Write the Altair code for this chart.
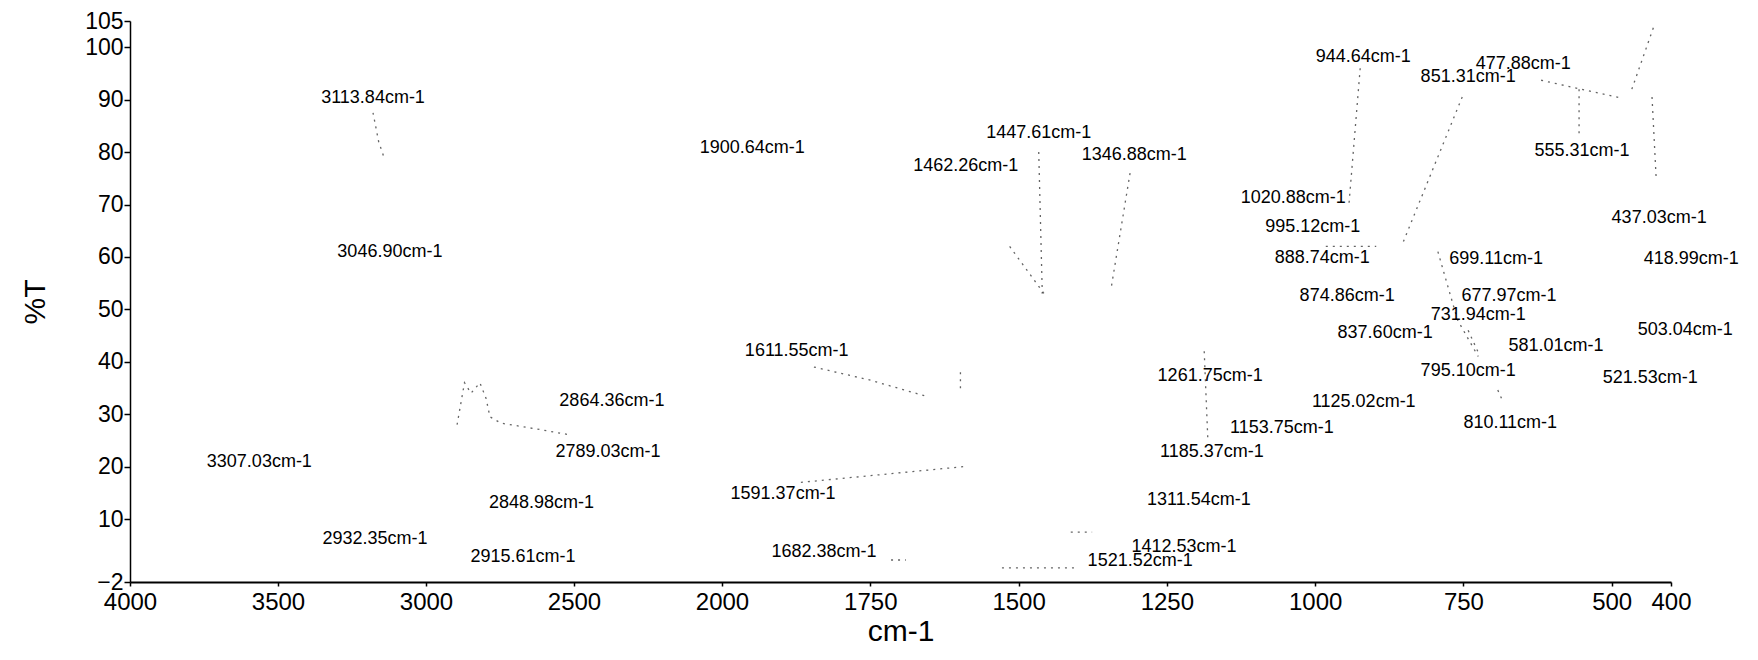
import altair as alt
import pandas as pd

# ---- peak labels (text, wavenumber position, %T position) ----
label_text = [
    "3113.84cm-1", "3046.90cm-1", "1900.64cm-1", "1447.61cm-1", "1462.26cm-1",
    "1346.88cm-1", "944.64cm-1", "851.31cm-1", "477.88cm-1", "555.31cm-1",
    "1020.88cm-1", "995.12cm-1", "437.03cm-1", "888.74cm-1", "699.11cm-1",
    "418.99cm-1", "874.86cm-1", "677.97cm-1", "731.94cm-1", "837.60cm-1",
    "503.04cm-1", "581.01cm-1", "795.10cm-1", "521.53cm-1", "1261.75cm-1",
    "1125.02cm-1", "810.11cm-1", "1153.75cm-1", "1185.37cm-1", "1311.54cm-1",
    "1412.53cm-1", "1521.52cm-1", "3307.03cm-1", "2932.35cm-1", "2915.61cm-1",
    "2848.98cm-1", "2864.36cm-1", "2789.03cm-1", "1611.55cm-1", "1591.37cm-1",
    "1682.38cm-1",
]
label_w = [
    3179, 3122, 1949, 1466, 1589,
    1305, 919, 742, 649, 550,
    1037, 1004, 420, 988, 695,
    366, 946, 673, 725, 882,
    376, 594, 742, 435, 1177,
    918, 671, 1056, 1174, 1196,
    1221, 1295, 3563, 3172, 2672,
    2610, 2372, 2385, 1874, 1897,
    1828,
]
label_t = [
    90.3, 60.9, 80.8, 83.6, 77.3,
    79.4, 98.1, 94.3, 96.8, 80.2,
    71.2, 65.7, 67.4, 59.8, 59.6,
    59.6, 52.5, 52.5, 48.9, 45.5,
    46.1, 43.0, 38.2, 36.9, 37.3,
    32.3, 28.3, 27.4, 22.8, 13.6,
    4.7, 2.0, 20.9, 6.2, 2.8,
    13.1, 32.5, 22.8, 42.1, 14.8,
    3.7,
]

# ---- visible fragments of the faded spectrum trace ----
frag_id = [
    "f1", "f1", "f1",
    "f2", "f2", "f2", "f2", "f2", "f2", "f2", "f2", "f2",
    "f3", "f3", "f3", "f3b", "f3b",
    "f4", "f4",
    "f5", "f5", "f5b", "f5b",
    "f6", "f6",
    "f7", "f7",
    "f8", "f8", "f8b", "f8b", "f8b",
    "f9", "f9", "f9b", "f9b",
    "f10", "f10",
    "f11", "f11",
    "f12", "f12",
    "f13", "f13",
    "f14", "f14",
    "f15", "f15",
    "f16", "f16",
    "f17", "f17", "f17b", "f17b",
]
frag_w = [
    3179, 3160, 3139,
    2895, 2870, 2848, 2818, 2797, 2784, 2747, 2628, 2507,
    1845, 1750, 1658, 1598, 1598,
    1867, 1593,
    1466, 1460, 1515, 1457,
    1312, 1344,
    924, 943,
    752, 852, 793, 760, 725,
    619, 484, 466, 427,
    555, 555,
    432, 425,
    982, 897,
    1715, 1690,
    1528, 1400,
    1412, 1376,
    1187, 1181,
    742, 723, 692, 683,
]
frag_t = [
    87.5, 82.0, 78.5,
    28.0, 36.0, 34.0, 36.0, 33.0, 29.5, 28.3, 27.2, 26.0,
    39.0, 36.5, 33.5, 38.0, 34.5,
    17.0, 20.0,
    80.0, 53.0, 62.0, 53.0,
    76.0, 54.0,
    96.0, 70.0,
    90.5, 62.7, 61.0, 48.0, 41.0,
    93.7, 90.3, 92.0, 104.6,
    92.0, 83.0,
    90.5, 75.0,
    62.0, 62.0,
    2.2, 2.2,
    0.7, 0.7,
    7.5, 7.5,
    42.0, 25.5,
    46.0, 41.3, 34.6, 32.3,
]

x_ticks = [4000, 3500, 3000, 2500, 2000, 1750, 1500, 1250, 1000, 750, 500, 400]
y_ticks = [-2, 10, 20, 30, 40, 50, 60, 70, 80, 90, 100, 105]

labels_df = pd.DataFrame({"txt": label_text, "w": label_w, "t": label_t})
frag_df = pd.DataFrame({"seg": frag_id, "w": frag_w, "t": frag_t})
frag_df["ord"] = range(len(frag_df))

FONT = "Liberation Sans"

xscale = alt.Scale(domain=[4000, 2000, 400], range=[0, 592, 1541], nice=False, zero=False)
yscale = alt.Scale(domain=[-2, 105], nice=False, zero=False)

xaxis = alt.Axis(
    values=x_ticks, title="cm-1", labelFontSize=24, titleFontSize=30,
    titleFontWeight="normal", labelFont=FONT, titleFont=FONT,
    labelColor="black", titleColor="black", tickColor="black",
    domainColor="black", domainWidth=2, tickWidth=1.5, tickSize=4,
    labelPadding=4, titlePadding=2, labelFlush=False, labelOverlap=False,
    grid=False, format="d",
)
yaxis = alt.Axis(
    values=y_ticks, title="%T", labelFontSize=23, titleFontSize=30,
    titleFontWeight="normal", labelFont=FONT, titleFont=FONT,
    labelColor="black", titleColor="black", tickColor="black",
    domainColor="black", domainWidth=1.5, tickWidth=1.5, tickSize=6,
    labelPadding=1, titlePadding=34, labelFlush=False, labelOverlap=False,
    grid=False, format="d",
)

lines = alt.Chart(frag_df).mark_line(
    strokeDash=[2, 5], color="#222222", strokeWidth=1.3, opacity=0.7
).encode(
    x=alt.X("w:Q", scale=xscale, axis=xaxis),
    y=alt.Y("t:Q", scale=yscale, axis=yaxis),
    detail="seg:N",
    order="ord:Q",
)

texts = alt.Chart(labels_df).mark_text(
    font=FONT, fontSize=18, color="black", align="center", baseline="middle"
).encode(
    x=alt.X("w:Q", scale=xscale),
    y=alt.Y("t:Q", scale=yscale),
    text="txt:N",
)

chart = alt.layer(lines, texts).properties(
    width=1541, height=561,
    padding={"left": 130, "top": 21, "right": 87, "bottom": 78},
    autosize="none",
    background="white",
).configure_view(stroke=None)

chart.save("out.html", embed_options={"renderer": "svg", "actions": False})
